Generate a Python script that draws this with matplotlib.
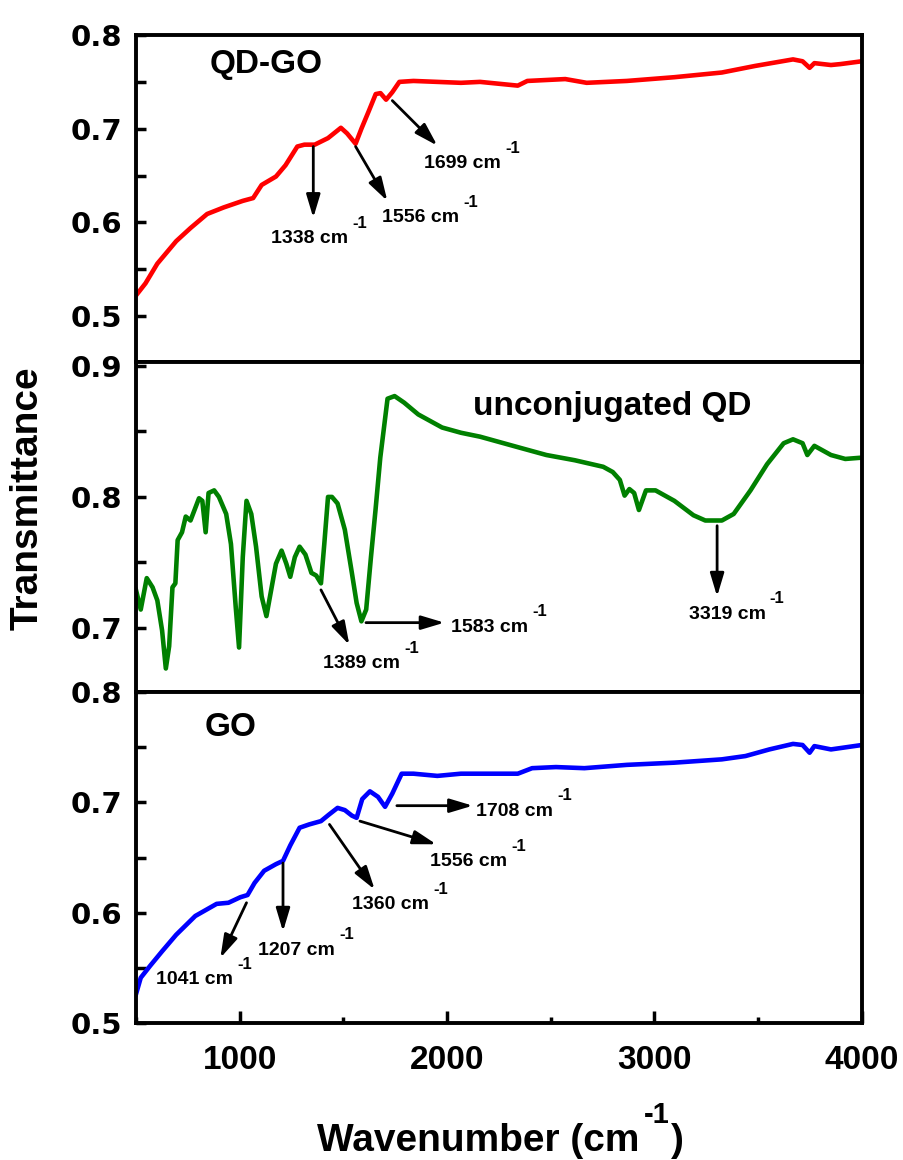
import matplotlib
matplotlib.use('Agg')
import matplotlib.pyplot as plt
from matplotlib.text import Annotation
from matplotlib.ticker import MultipleLocator

plt.rcParams['font.family'] = ['Liberation Sans', 'DejaVu Sans']
plt.rcParams['font.weight'] = 'bold'

# FTIR spectra (wavenumber in cm-1, transmittance)
qdgo_wn = [500, 546, 603, 694, 763, 843, 923, 1015, 1065, 1106, 1175, 1221, 1278, 1312, 1362,
           1426, 1488, 1518, 1559, 1587, 1621, 1656, 1679, 1706, 1736, 1770, 1838, 2067, 2159,
           2341, 2387, 2570, 2673, 2867, 3096, 3325, 3485, 3668, 3714, 3748, 3771, 3851, 3897, 4000]
qdgo_t = [0.522, 0.535, 0.556, 0.580, 0.594, 0.609, 0.616, 0.623, 0.626, 0.640, 0.649, 0.661,
          0.681, 0.683, 0.683, 0.690, 0.701, 0.695, 0.684, 0.700, 0.718, 0.737, 0.738, 0.731,
          0.739, 0.750, 0.751, 0.749, 0.750, 0.746, 0.751, 0.753, 0.749, 0.751, 0.755, 0.760,
          0.767, 0.774, 0.772, 0.765, 0.770, 0.768, 0.769, 0.772]

qd_wn = [500, 523, 552, 580, 603, 626, 644, 660, 676, 690, 701, 722, 740, 763, 804, 820, 836,
         850, 877, 900, 935, 958, 981, 997, 1015, 1033, 1056, 1079, 1106, 1129, 1152, 1175,
         1202, 1225, 1244, 1266, 1289, 1317, 1346, 1369, 1392, 1408, 1426, 1445, 1472, 1507,
         1541, 1564, 1587, 1610, 1633, 1655, 1678, 1713, 1747, 1793, 1861, 1930, 1976, 2067,
         2159, 2250, 2364, 2479, 2616, 2753, 2799, 2833, 2856, 2879, 2902, 2925, 2959, 3005,
         3096, 3188, 3245, 3325, 3382, 3463, 3543, 3623, 3668, 3714, 3737, 3771, 3851, 3920, 4000]
qd_t = [0.729, 0.714, 0.738, 0.731, 0.721, 0.698, 0.669, 0.686, 0.731, 0.734, 0.767, 0.773,
        0.785, 0.782, 0.799, 0.797, 0.773, 0.803, 0.805, 0.800, 0.787, 0.764, 0.716, 0.685,
        0.754, 0.797, 0.787, 0.762, 0.724, 0.709, 0.729, 0.749, 0.759, 0.749, 0.739, 0.754,
        0.762, 0.756, 0.742, 0.740, 0.734, 0.764, 0.800, 0.800, 0.795, 0.775, 0.742, 0.719,
        0.705, 0.714, 0.754, 0.790, 0.830, 0.875, 0.877, 0.872, 0.863, 0.857, 0.853, 0.849,
        0.846, 0.842, 0.837, 0.832, 0.828, 0.823, 0.819, 0.813, 0.801, 0.806, 0.803, 0.790,
        0.805, 0.805, 0.797, 0.786, 0.782, 0.782, 0.787, 0.805, 0.825, 0.841, 0.844, 0.841,
        0.832, 0.839, 0.832, 0.829, 0.830]

go_wn = [500, 523, 569, 626, 694, 786, 889, 946, 1003, 1038, 1072, 1118, 1175, 1209, 1244,
         1289, 1335, 1392, 1431, 1472, 1507, 1541, 1564, 1591, 1628, 1667, 1701, 1736, 1781,
         1838, 1953, 2067, 2204, 2341, 2410, 2525, 2662, 2867, 3096, 3325, 3439, 3554, 3668,
         3714, 3748, 3771, 3851, 4000]
go_t = [0.526, 0.541, 0.552, 0.565, 0.580, 0.597, 0.608, 0.609, 0.614, 0.616, 0.627, 0.638,
        0.644, 0.647, 0.661, 0.677, 0.680, 0.683, 0.689, 0.695, 0.693, 0.688, 0.686, 0.703,
        0.710, 0.705, 0.696, 0.708, 0.726, 0.726, 0.724, 0.726, 0.726, 0.726, 0.731, 0.732,
        0.731, 0.734, 0.736, 0.739, 0.742, 0.748, 0.753, 0.752, 0.745, 0.751, 0.748, 0.752]

# peak labels: (label, arrow tail, arrow head, text anchor)
qdgo_peaks = [('1338', (1355, 0.681), (1355, 0.605), (1150, 0.578)),
              ('1556', (1559, 0.681), (1712, 0.623), (1685, 0.600)),
              ('1699', (1736, 0.730), (1953, 0.682), (1889, 0.658))]
qd_peaks = [('1389', (1392, 0.729), (1529, 0.687), (1404, 0.669)),
            ('1583', (1609, 0.704), (1987, 0.704), (2017, 0.697)),
            ('3319', (3302, 0.778), (3302, 0.724), (3165, 0.707))]
go_peaks = [('1041', (1033, 0.609), (907, 0.559), (598, 0.535)),
            ('1207', (1209, 0.645), (1209, 0.583), (1090, 0.562)),
            ('1360', (1433, 0.680), (1651, 0.621), (1541, 0.603)),
            ('1556', (1580, 0.683), (1948, 0.662), (1918, 0.642)),
            ('1708', (1758, 0.697), (2124, 0.697), (2140, 0.688))]

panels = [
    dict(wn=qdgo_wn, t=qdgo_t, color='#ff0000', ylim=(0.451, 0.8), rect=0.6879, h=0.2819,
         name='QD-GO', name_xy=(855, 0.769), peaks=qdgo_peaks),
    dict(wn=qd_wn, t=qd_t, color='#008000', ylim=(0.651, 0.903), rect=0.4034, h=0.2845,
         name='unconjugated QD', name_xy=(2124, 0.869), peaks=qd_peaks),
    dict(wn=go_wn, t=go_t, color='#0000ff', ylim=(0.5, 0.8), rect=0.1181, h=0.2853,
         name='GO', name_xy=(832, 0.768), peaks=go_peaks),
]

fig = plt.figure(figsize=(9.04, 11.6), dpi=100)
left, width = 0.1504, 0.803


def add_superscript(parent, text, size, gap, rise):
    """Put a raised text just right of the top of another text artist."""
    sup = Annotation(text, xy=(1, 1), xycoords=parent, xytext=(gap, rise),
                     textcoords='offset points', fontsize=size, fontweight='bold',
                     ha='left', va='center', annotation_clip=False)
    fig.add_artist(sup)
    return sup


for i, p in enumerate(panels):
    ax = fig.add_axes((left, p['rect'], width, p['h']))
    ax.plot(p['wn'], p['t'], color=p['color'], lw=3.3, solid_joinstyle='round')
    ax.set_xlim(500, 4000)
    ax.set_ylim(*p['ylim'])
    for s in ax.spines.values():
        s.set_linewidth(2.8)
    ax.yaxis.set_major_locator(MultipleLocator(0.1))
    ax.yaxis.set_minor_locator(MultipleLocator(0.05))
    ax.xaxis.set_major_locator(MultipleLocator(1000))
    ax.xaxis.set_minor_locator(MultipleLocator(500))
    ax.tick_params(axis='y', which='both', direction='in', length=7, width=2.5,
                   right=False, pad=10)
    ax.tick_params(axis='y', which='major', labelsize=21)
    for lab in ax.get_yticklabels():
        lab.set_fontfamily('DejaVu Sans')
        lab.set_fontweight('bold')
    bottom = i == len(panels) - 1
    ax.tick_params(axis='x', which='major', direction='in', length=9, width=2.5,
                   top=False, bottom=bottom, labelbottom=bottom, labelsize=24, pad=16)
    ax.tick_params(axis='x', which='minor', direction='in', length=4, width=2.5,
                   top=False, bottom=bottom)

    ax.text(p['name_xy'][0], p['name_xy'][1], p['name'], fontsize=24, fontweight='bold',
            ha='left', va='center')
    for label, tail, head, txt in p['peaks']:
        ax.annotate('', xy=head, xytext=tail,
                    arrowprops=dict(arrowstyle='-|>,head_length=1.0,head_width=0.3',
                                    mutation_scale=14, lw=2, color='black',
                                    shrinkA=0, shrinkB=0))
        t = ax.text(txt[0], txt[1], label + ' cm', fontsize=14, fontweight='bold',
                    ha='left', va='baseline')
        add_superscript(t, '-1', 12, 3, 5)

xl = fig.text(317 / 904, 9 / 1160, 'Wavenumber (cm', fontsize=28, fontweight='bold',
              ha='left', va='baseline')
sup = add_superscript(xl, '-1', 21, 3, 6)
paren = Annotation(')', xy=(1, 0), xycoords=(sup, xl), xytext=(1, 0),
                   textcoords='offset points', fontsize=28, fontweight='bold',
                   ha='left', va='bottom', annotation_clip=False)
fig.add_artist(paren)
fig.text(28 / 904, 1 - 498 / 1160, 'Transmittance', fontsize=28, fontweight='bold',
         rotation=90, ha='center', va='center')

fig.savefig('out.png', dpi=100)
